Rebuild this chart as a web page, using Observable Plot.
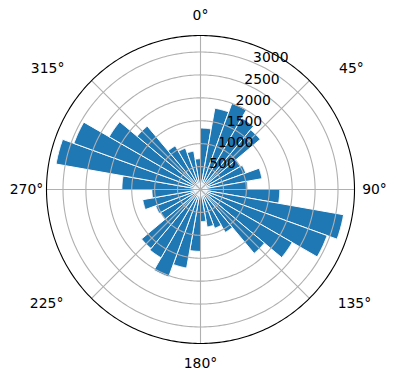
<!DOCTYPE html>
<html><head><meta charset="utf-8">
<script src="https://cdn.jsdelivr.net/npm/d3@7"></script>
<script src="https://cdn.jsdelivr.net/npm/@observablehq/plot@0.6"></script>
<style>html,body{margin:0;padding:0;background:#fff;} #chart svg{display:block}</style>
</head><body><div id="chart"></div>
<script>
// Bin centres (compass degrees, clockwise from north) and bar lengths
const directions = [5, 15, 25, 35, 45, 55, 65, 75, 85,
                    95, 105, 115, 125, 135, 145, 155, 165, 175,
                    185, 195, 205, 215, 225, 235, 245, 255, 265,
                    275, 285, 295, 305, 315, 325, 335, 345, 355];
const counts = [1340, 1800, 2000, 1800, 1700, 1000, 1050, 1360, 1030,
                1730, 3170, 2940, 2310, 1820, 1080, 900, 830, 700,
                1350, 1740, 2030, 1720, 1680, 1010, 1040, 1280, 1060,
                1715, 3200, 2940, 2300, 1805, 1100, 960, 850, 670];
const binWidth = 10;
const radialTicks = [500, 1000, 1500, 2000, 2500, 3000];
const radialTickLabels = ["500", "1000", "1500", "2000", "2500", "3000"];
const angleTicks = [0, 45, 90, 135, 180, 225, 270, 315];
const angleTickLabels = ["0°", "45°", "90°", "135°", "180°", "225°", "270°", "315°"];
const rMax = 3360;
const rLabelAngle = 22.5;

// layout: pixel offsets of the angle labels from the outer circle
const labelOffset = {0: [0, -20], 45: [42, -12], 90: [20, 0], 135: [45, 5],
                     180: [0, 20], 225: [-45, 5], 270: [-20, 0], 315: [-44, -12]};

const rad = d => d * Math.PI / 180;
const px = (r, a) => r * Math.sin(rad(a));
const py = (r, a) => r * Math.cos(rad(a));

const wedgePts = [];
directions.forEach((dir, i) => {
  const v = counts[i];
  wedgePts.push({bar: i, x: 0, y: 0});
  const n = 20;
  for (let k = 0; k <= n; k++) {
    const a = dir - binWidth / 2 + k * binWidth / n;
    wedgePts.push({bar: i, x: px(v, a), y: py(v, a)});
  }
  wedgePts.push({bar: i, x: 0, y: 0});
});

const circlePts = (r, key) => {
  const pts = [];
  for (let a = 0; a <= 360; a += 1) pts.push({key, x: px(r, a), y: py(r, a)});
  return pts;
};
const gridPts = radialTicks.flatMap(r => circlePts(r, r));
const outerPts = circlePts(rMax, "outer");

const angleLabelMarks = angleTicks.map((a, i) =>
  Plot.text([a], {x: d => px(rMax, d), y: d => py(rMax, d), text: () => angleTickLabels[i],
    dx: labelOffset[a][0], dy: labelOffset[a][1],
    textAnchor: "middle", lineAnchor: "middle", fill: "black", fontSize: 13.9}));

const chart = Plot.plot({
  width: 396, height: 380,
  marginLeft: 46, marginRight: 42, marginTop: 35, marginBottom: 37,
  x: {domain: [-rMax, rMax], axis: null},
  y: {domain: [-rMax, rMax], axis: null},
  style: {fontFamily: "DejaVu Sans", background: "white", overflow: "visible"},
  marks: [
    Plot.line(wedgePts, {x: "x", y: "y", z: "bar", fill: "#1f77b4", stroke: "white", strokeWidth: 1, strokeLinejoin: "miter"}),
    Plot.line(gridPts, {x: "x", y: "y", z: "key", stroke: "#b0b0b0", strokeWidth: 1.1}),
    Plot.link(angleTicks, {x1: () => 0, y1: () => 0, x2: a => px(rMax, a), y2: a => py(rMax, a), stroke: "#b0b0b0", strokeWidth: 1.1}),
    Plot.line(outerPts, {x: "x", y: "y", stroke: "black", strokeWidth: 1.1}),
    Plot.text(radialTicks, {x: r => px(r, rLabelAngle), y: r => py(r, rLabelAngle), text: (d, i) => radialTickLabels[i],
      textAnchor: "start", lineAnchor: "bottom", fill: "black", fontSize: 13.9}),
    ...angleLabelMarks
  ]
});
document.getElementById("chart").appendChild(chart);
</script>
</body></html>
